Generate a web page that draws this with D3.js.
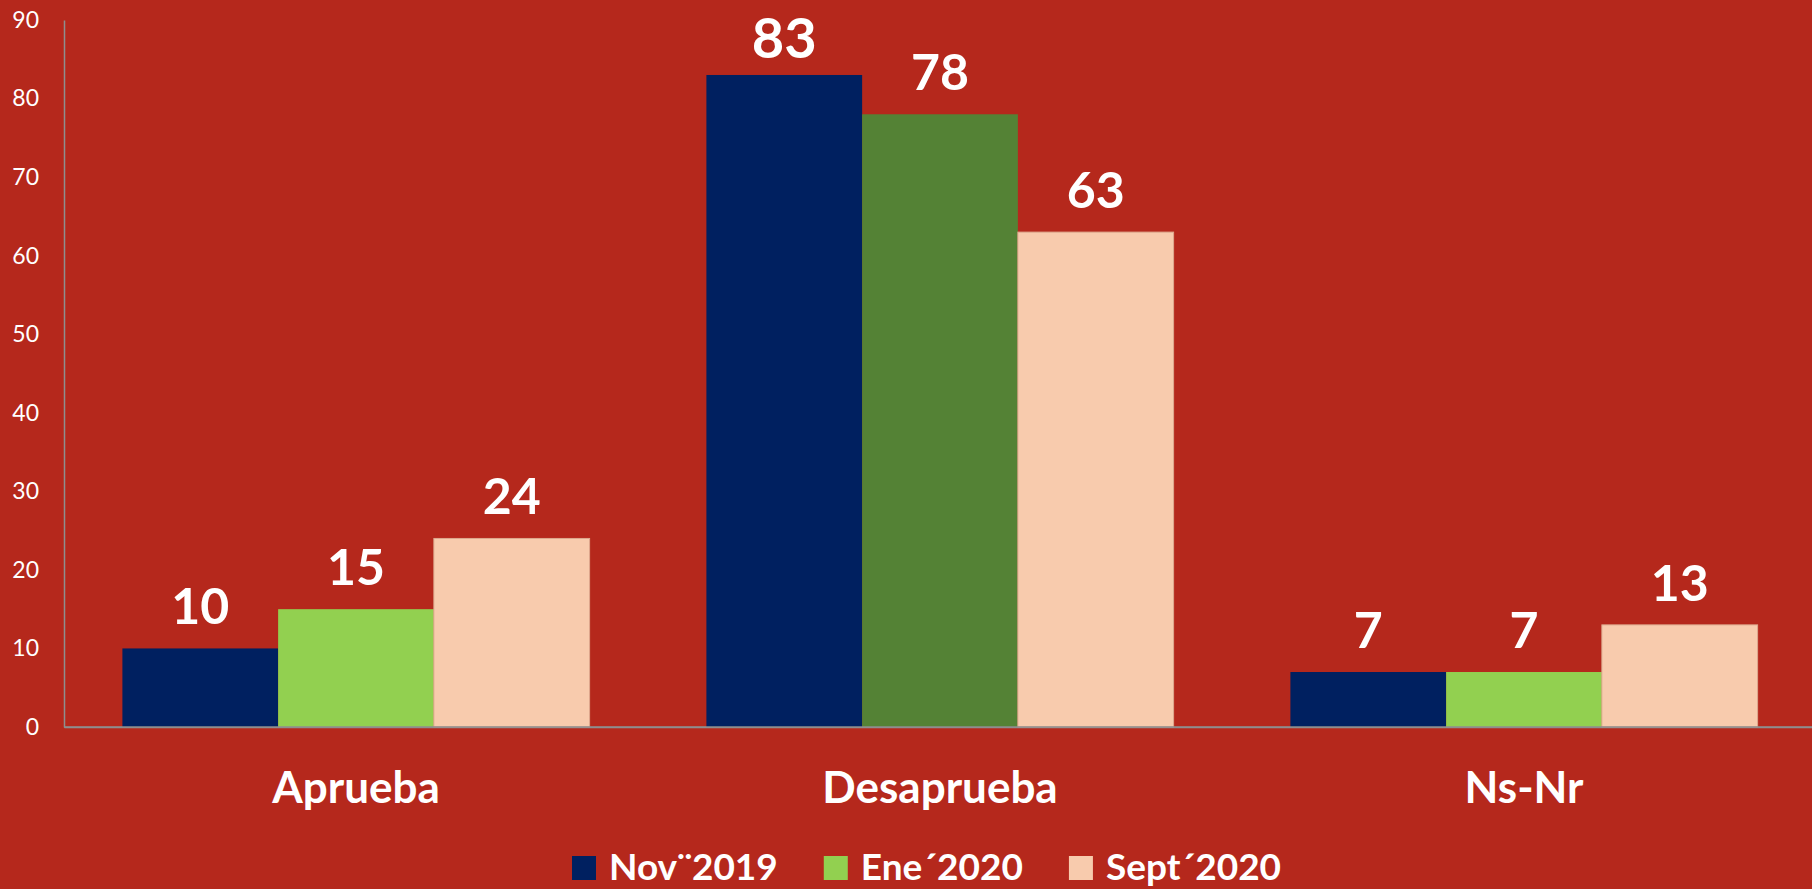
<!DOCTYPE html>
<html><head><meta charset="utf-8">
<script src="https://cdn.jsdelivr.net/npm/d3@7"></script>
<style>html,body{margin:0;padding:0;background:#B5281C;} svg{display:block}</style>
</head><body>
<svg id="chart" width="1812" height="889"></svg>
<script>
const categories = ["Aprueba", "Desaprueba", "Ns-Nr"];
const seriesNames = ["Nov\u00A82019", "Ene\u00B42020", "Sept\u00B42020"];
const nov2019 = [10, 83, 7];
const ene2020 = [15, 78, 7];
const sept2020 = [24, 63, 13];
const yTicks = [0, 10, 20, 30, 40, 50, 60, 70, 80, 90];
const seriesColors = ["#002060", "#92D050", "#F8CBAD"];
const pointColorOverrides = { "Ene\u00B42020|Desaprueba": "#548235" };

const seriesValues = [nov2019, ene2020, sept2020];
const FONT = "Lato, 'Open Sans', sans-serif";
const svg = d3.select("#chart");
const W = 1812, H = 889;
svg.append("rect").attr("width", W).attr("height", H).attr("fill", "#B5281C");

const x0 = d3.scaleBand().domain(categories).range([64, 1816]).paddingInner(0).paddingOuter(0);
const x1 = d3.scaleBand().domain(seriesNames).range([0, x0.bandwidth()]).paddingInner(0).paddingOuter(0.375);
const y = d3.scaleLinear().domain([0, 90]).range([727, 20]);

// y axis
const yAxis = d3.axisLeft(y).tickValues(yTicks).tickSize(0).tickPadding(25).tickFormat(d3.format("d"));
const gy = svg.append("g").attr("transform", "translate(64,0)").call(yAxis);
gy.select(".domain").attr("stroke", "#8E8E8E").attr("stroke-width", 1.5);
gy.selectAll("text").attr("fill", "#FFFFFF").attr("font-family", FONT).attr("font-size", 23);

// x baseline + category labels
const xAxis = d3.axisBottom(x0).tickSize(0).tickPadding(76);
const gx = svg.append("g").attr("transform", `translate(0,${y(0)})`).call(xAxis);
gx.select(".domain").attr("stroke", "#8E8E8E").attr("stroke-width", 1.5);
gx.selectAll("text").attr("fill", "#FFFFFF").attr("font-family", FONT)
  .attr("font-size", 44).attr("font-weight", "bold").attr("dy", 0);

// data rows
const rows = [];
categories.forEach((c, i) => {
  seriesNames.forEach((s, j) => {
    rows.push({ cat: c, ser: s, j, v: seriesValues[j][i] });
  });
});
const maxV = d3.max(rows, d => d.v);

const bars = svg.append("g");
bars.selectAll("rect").data(rows).join("rect")
  .attr("x", d => x0(d.cat) + x1(d.ser))
  .attr("y", d => y(d.v))
  .attr("width", x1.bandwidth())
  .attr("height", d => y(0) - y(d.v))
  .attr("fill", d => pointColorOverrides[d.ser + "|" + d.cat] || seriesColors[d.j])
  .attr("stroke", d => d.j === 2 ? "#DDA98E" : "none")
  .attr("stroke-width", 1);

// redraw baseline over bars
svg.append("line").attr("x1", 64).attr("x2", 1816).attr("y1", y(0)).attr("y2", y(0))
  .attr("stroke", "#8E8E8E").attr("stroke-width", 1.5);

svg.append("g").selectAll("text").data(rows).join("text")
  .attr("x", d => x0(d.cat) + x1(d.ser) + x1.bandwidth() / 2)
  .attr("y", d => y(d.v) - (d.v === maxV ? 17 : 24))
  .attr("text-anchor", "middle")
  .attr("fill", "#FFFFFF")
  .attr("font-family", FONT)
  .attr("font-weight", "bold")
  .attr("font-size", d => d.v === maxV ? 56 : 50)
  .text(d => d.v);

// legend
const legend = svg.append("g");
let lx = 572;
seriesNames.forEach((s, j) => {
  legend.append("rect").attr("x", lx).attr("y", 856).attr("width", 24).attr("height", 24)
    .attr("fill", seriesColors[j]);
  const t = legend.append("text").attr("x", lx + 37).attr("y", 880)
    .attr("fill", "#FFFFFF").attr("font-family", FONT).attr("font-weight", "bold")
    .attr("font-size", 37).text(s);
  const w = t.node().getComputedTextLength();
  lx = lx + 37 + w + 46;
});
</script>
</body></html>
